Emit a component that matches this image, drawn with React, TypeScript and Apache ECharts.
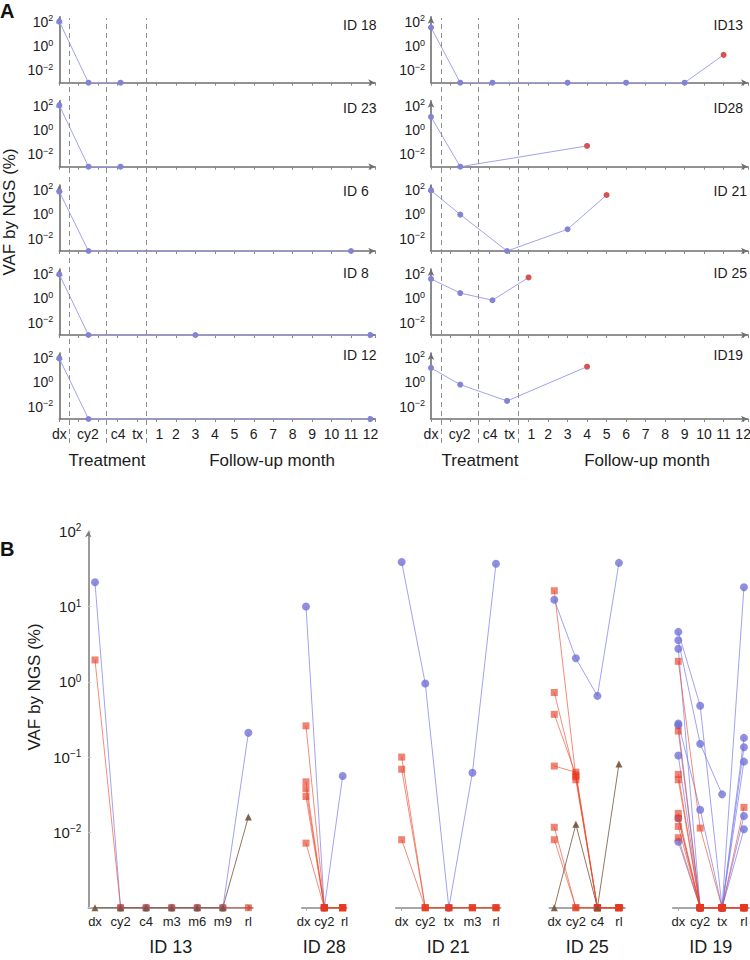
import { useEffect, useRef } from 'react';
import * as echarts from 'echarts';

const FONT = '"Liberation Sans", Arial, Helvetica, sans-serif';
const FLOOR_EXP = -3; // undetected values (0) sit on the axis floor, 10^-3

// ---------------- Panel A ----------------
const A_TICK_LABELS = ['dx', 'cy2', 'c4', 'tx', '1', '2', '3', '4', '5', '6', '7', '8', '9', '10', '11', '12'];
const A_TICK_POS = [-4, -2.53, -0.97, 0.03, 1.15, 2, 3, 4, 5, 6, 7, 8, 9, 10, 11, 12];
const A_TIME_POS: Record<string, number> = { dx: -4, cy2: -2.5, c4: -0.85, tx: -0.1 };
const A_PHASE_BOUNDS = [-3.5, -1.6, 0.47];
const A_Y_LABELS: Record<string, string> = { '-2': '10{s|−2}', '0': '10{s|0}', '2': '10{s|2}' };

const A18_T = ['dx', 'cy2', 'c4'];
const A18_V = [100, 0, 0];
const A23_T = ['dx', 'cy2', 'c4'];
const A23_V = [105, 0, 0];
const A6_T = ['dx', 'cy2', '11'];
const A6_V = [72, 0, 0];
const A8_T = ['dx', 'cy2', '3', '12'];
const A8_V = [90, 0, 0, 0];
const A12_T = ['dx', 'cy2', '12'];
const A12_V = [90, 0, 0];

const A13_T = ['dx', 'cy2', 'c4', '3', '6', '9', '11'];
const A13_V = [33, 0, 0, 0, 0, 0, 0.19];
const A28_T = ['dx', 'cy2', '4'];
const A28_V = [12, 0, 0.05];
const A21_T = ['dx', 'cy2', 'tx', '3', '5'];
const A21_V = [90, 0.95, 0, 0.06, 38];
const A25_T = ['dx', 'cy2', 'c4', '1'];
const A25_V = [39, 2.7, 0.7, 51];
const A19_T = ['dx', 'cy2', 'tx', '4'];
const A19_V = [15, 0.65, 0.03, 19];

const A_LEFT_IDS = ['ID 18', 'ID 23', 'ID 6', 'ID 8', 'ID 12'];
const A_RIGHT_IDS = ['ID13', 'ID28', 'ID 21', 'ID 25', 'ID19'];
const A_LEFT_T = [A18_T, A23_T, A6_T, A8_T, A12_T];
const A_LEFT_V = [A18_V, A23_V, A6_V, A8_V, A12_V];
const A_RIGHT_T = [A13_T, A28_T, A21_T, A25_T, A19_T];
const A_RIGHT_V = [A13_V, A28_V, A21_V, A25_V, A19_V];
// relapse sample (red) for the right-hand patients
const A_RIGHT_RELAPSE = ['11', '4', '5', '1', '4'];

// ---------------- Panel B ----------------
const B_Y_LABELS: Record<string, string> = {
  '2': '10{s|2}',
  '1': '10{s|1}',
  '0': '10{s|0}',
  '-1': '10{s|−1}',
  '-2': '10{s|−2}',
};
const B_IDS = ['ID 13', 'ID 28', 'ID 21', 'ID 25', 'ID 19'];

const B13_CATS = ['dx', 'cy2', 'c4', 'm3', 'm6', 'm9', 'rl'];
const B13_BLUE = [[21, 0, 0, 0, 0, 0, 0.21]];
const B13_RED = [[1.95, 0, 0, 0, 0, 0, 0]];
const B13_BROWN = [[0, 0, 0, 0, 0, 0, 0.016]];

const B28_CATS = ['dx', 'cy2', 'rl'];
const B28_BLUE = [[10, 0, 0.056]];
const B28_RED = [[0.26, 0, 0], [0.047, 0, 0], [0.038, 0, 0], [0.03, 0, 0], [0.0072, 0, 0]];
const B28_BROWN: number[][] = [];

const B21_CATS = ['dx', 'cy2', 'tx', 'm3', 'rl'];
const B21_BLUE = [[39, 0.95, 0, 0.062, 37]];
const B21_RED = [[0.1, 0, 0, 0, 0], [0.069, 0, 0, 0, 0], [0.008, 0, 0, 0, 0]];
const B21_BROWN: number[][] = [];

const B25_CATS = ['dx', 'cy2', 'c4', 'rl'];
const B25_BLUE = [[12.3, 2.05, 0.65, 38]];
const B25_RED = [
  [16.2, 0.055, 0, 0],
  [0.72, 0.05, 0, 0],
  [0.37, 0.058, 0, 0],
  [0.076, 0.063, 0, 0],
  [0.0117, 0, 0, 0],
  [0.008, 0, 0, 0],
];
const B25_BROWN = [[0, 0.0128, 0, 0.081]];

const B19_CATS = ['dx', 'cy2', 'tx', 'rl'];
const B19_BLUE: (number | null)[][] = [
  [4.6, 0.48, 0, 18],
  [3.56, 0.15, 0.032, null],
  [2.75, 0, 0, 0.18],
  [0.28, 0.02, 0, 0.135],
  [0.264, 0, 0, 0.087],
  [0.105, 0, 0, 0.0165],
  [0.0154, 0, 0, 0.011],
  [0.0075, 0, 0, 0],
];
const B19_RED = [
  [1.87, 0.0114, 0, 0],
  [0.222, 0, 0, 0],
  [0.059, 0, 0, 0.0215],
  [0.05, 0, 0, 0],
  [0.0179, 0, 0, 0],
  [0.0154, 0, 0, 0],
  [0.012, 0, 0, 0],
  [0.0085, 0, 0, 0],
];
const B19_BROWN: number[][] = [];

const B_CATS = [B13_CATS, B28_CATS, B21_CATS, B25_CATS, B19_CATS];
const B_BLUE = [B13_BLUE, B28_BLUE, B21_BLUE, B25_BLUE, B19_BLUE];
const B_RED = [B13_RED, B28_RED, B21_RED, B25_RED, B19_RED];
const B_BROWN = [B13_BROWN, B28_BROWN, B21_BROWN, B25_BROWN, B19_BROWN];

// ---------------- layout / style ----------------
const A_COLS = [
  { left: 59.3, width: 316 },
  { left: 431, width: 317 },
];
const A_BOTTOMS = [82.7, 166.7, 251, 335, 419];
const A_H = 66;
const A_ID_Y = [25, 108, 190.5, 273, 355];
const A_ID_X = [343, 713.5];
const B_TOP = 531.2;
const B_H = 376.5;
const B_LAYOUT = [
  { left: 88.3, width: 164.7, min: -0.262, max: 6.18, labelShift: [0, 0, 0, 0, 0, 0, 0] },
  { left: 301.7, width: 45, min: -0.234, max: 2.22, labelShift: [-0.13, 0, 0.1] },
  { left: 395.7, width: 105, min: -0.254, max: 4.2, labelShift: [0, 0, 0, 0, 0] },
  { left: 549.3, width: 75.7, min: -0.232, max: 3.28, labelShift: [0, 0, 0, 0] },
  { left: 672.7, width: 76.3, min: -0.256, max: 3.23, labelShift: [0, 0, 0, 0] },
];

const AXIS_GRAY = '#6f6f6f';
const TXT = '#1c1c1c';

const toExp = (v: number) => (v > 0 ? Math.log10(v) : FLOOR_EXP);
const timePos = (t: string) => (t in A_TIME_POS ? A_TIME_POS[t] : Number(t));
const nearestIdx = (arr: number[], v: number) => {
  let bi = 0;
  for (let i = 1; i < arr.length; i++) if (Math.abs(arr[i] - v) < Math.abs(arr[bi] - v)) bi = i;
  return bi;
};
const expLabel = (map: Record<string, string>) => (v: number) => {
  const r = Math.round(v);
  if (Math.abs(v - r) > 1e-6) return '';
  return map[String(r)] ?? '';
};
const supRich = (base: number, sup: number) => ({
  s: { fontSize: sup, verticalAlign: 'top', lineHeight: sup + 1, color: TXT, fontFamily: FONT },
  b: { fontSize: base },
});

function buildOption() {
  const grid: any[] = [];
  const xAxis: any[] = [];
  const yAxis: any[] = [];
  const series: any[] = [];
  const graphic: any[] = [];

  // Panel A small multiples
  const cols = [
    { ids: A_LEFT_IDS, T: A_LEFT_T, V: A_LEFT_V, relapse: null as string[] | null },
    { ids: A_RIGHT_IDS, T: A_RIGHT_T, V: A_RIGHT_V, relapse: A_RIGHT_RELAPSE },
  ];
  cols.forEach((col, c) => {
    col.ids.forEach((id, r) => {
      const gi = grid.length;
      const bottom = A_BOTTOMS[r];
      grid.push({
        left: A_COLS[c].left,
        width: A_COLS[c].width,
        top: bottom - A_H,
        height: A_H,
        containLabel: false,
        outerBoundsMode: 'none',
      });
      const isBottom = r === col.ids.length - 1;
      xAxis.push({
        gridIndex: gi,
        type: 'value',
        min: -4,
        max: 12.25,
        interval: 1,
        axisLine: {
          show: true,
          onZero: false,
          symbol: ['none', 'arrow'],
          symbolSize: [5, 7],
          lineStyle: { color: AXIS_GRAY, width: 1.6 },
        },
        axisTick: { show: true, length: 3, lineStyle: { color: '#888', width: 1 } },
        axisLabel: isBottom
          ? {
              show: true,
              customValues: A_TICK_POS,
              formatter: (v: number) => A_TICK_LABELS[nearestIdx(A_TICK_POS, v)],
              fontSize: 14,
              color: TXT,
              margin: 8,
              hideOverlap: false,
            }
          : { show: false },
        splitLine: { show: false },
      });
      yAxis.push({
        gridIndex: gi,
        type: 'value',
        min: FLOOR_EXP,
        max: 2.4,
        interval: 1,
        axisLine: {
          show: true,
          onZero: false,
          symbol: ['none', 'arrow'],
          symbolSize: [5, 7],
          lineStyle: { color: AXIS_GRAY, width: 1.6 },
        },
        axisTick: { show: false },
        axisLabel: {
          formatter: expLabel(A_Y_LABELS),
          fontSize: 14,
          lineHeight: 16,
          color: TXT,
          margin: 6,
          rich: supRich(14, 9),
        },
        splitLine: { show: false },
      });
      const T = col.T[r];
      const V = col.V[r];
      series.push({
        type: 'line',
        xAxisIndex: gi,
        yAxisIndex: gi,
        symbol: 'circle',
        symbolSize: 6,
        clip: false,
        lineStyle: { color: '#a2a2ee', width: 1 },
        itemStyle: { color: '#8383d6' },
        data: T.map((t, i) => {
          const item: any = { value: [timePos(t), toExp(V[i])] };
          if (col.relapse && col.relapse[r] === t) item.itemStyle = { color: '#d65353' };
          return item;
        }),
        z: 3,
      });
      graphic.push({
        type: 'text',
        x: A_ID_X[c],
        y: A_ID_Y[r],
        style: { text: id, fontSize: 14, fill: TXT, fontFamily: FONT, align: 'left', verticalAlign: 'middle' },
      });
    });
  });

  // Panel A dashed phase boundaries (overlay grids spanning the column)
  A_COLS.forEach((colLayout) => {
    const gi = grid.length;
    grid.push({ left: colLayout.left, width: colLayout.width, top: 18, height: 425, containLabel: false, outerBoundsMode: 'none' });
    xAxis.push({ gridIndex: gi, type: 'value', min: -4, max: 12.25, show: false });
    yAxis.push({ gridIndex: gi, type: 'value', min: 0, max: 1, show: false });
    series.push({
      type: 'line',
      xAxisIndex: gi,
      yAxisIndex: gi,
      data: [],
      markLine: {
        silent: true,
        symbol: ['none', 'none'],
        label: { show: false },
        lineStyle: { color: '#8f8f8f', width: 1, type: [5, 4] },
        data: A_PHASE_BOUNDS.map((x) => ({ xAxis: x })),
      },
    });
  });

  // Panel B
  const styles = [
    { lists: B_BLUE, symbol: 'circle', size: 8, color: 'rgb(112,112,214)', op: 0.78, line: 'rgb(122,122,236)', lop: 0.7 },
    { lists: B_RED, symbol: 'rect', size: 7, color: 'rgb(230,56,30)', op: 0.62, line: 'rgb(238,70,40)', lop: 0.62 },
    { lists: B_BROWN, symbol: 'triangle', size: 7, color: '#76573f', op: 0.92, line: '#7d5f48', lop: 0.85 },
  ];
  B_IDS.forEach((id, p) => {
    const gi = grid.length;
    const L = B_LAYOUT[p];
    const cats = B_CATS[p];
    const idx = cats.map((_, i) => i);
    const labelPos = cats.map((_, i) => i + L.labelShift[i]);
    grid.push({ left: L.left, width: L.width, top: B_TOP, height: B_H, containLabel: false, outerBoundsMode: 'none' });
    xAxis.push({
      gridIndex: gi,
      type: 'value',
      min: L.min,
      max: L.max,
      name: id,
      nameLocation: 'middle',
      nameGap: 30,
      nameTextStyle: { fontSize: 18, color: TXT, fontFamily: FONT },
      axisLine: {
        show: true,
        onZero: false,
        symbol: ['none', 'arrow'],
        symbolSize: [5, 6],
        lineStyle: { color: '#8a8a8a', width: 1.5 },
      },
      axisTick: { show: true, customValues: idx, length: 3, lineStyle: { color: '#aaa' } },
      axisLabel: {
        show: true,
        customValues: labelPos,
        formatter: (v: number) => cats[nearestIdx(labelPos, v)],
        fontSize: 13,
        color: TXT,
        margin: 7,
        hideOverlap: false,
      },
      splitLine: { show: false },
    });
    const first = p === 0;
    yAxis.push({
      gridIndex: gi,
      type: 'value',
      min: FLOOR_EXP,
      max: 2,
      interval: 1,
      show: first,
      axisLine: {
        show: first,
        onZero: false,
        symbol: ['none', 'arrow'],
        symbolSize: [5, 6],
        lineStyle: { color: '#7a7a7a', width: 1.5 },
      },
      axisTick: { show: first, length: 3, inside: true, lineStyle: { color: '#ccc' } },
      axisLabel: {
        show: first,
        formatter: expLabel(B_Y_LABELS),
        fontSize: 15,
        lineHeight: 17,
        color: TXT,
        margin: 7,
        rich: supRich(15, 10),
      },
      splitLine: { show: false },
    });
    styles.forEach((s) => {
      (s.lists[p] as (number | null)[][]).forEach((vals) => {
        const data: number[][] = [];
        vals.forEach((v, i) => {
          if (v !== null) data.push([i, toExp(v)]);
        });
        series.push({
          type: 'line',
          xAxisIndex: gi,
          yAxisIndex: gi,
          symbol: s.symbol,
          symbolSize: s.size,
          clip: false,
          data,
          lineStyle: { color: s.line, width: 1, opacity: s.lop },
          itemStyle: { color: s.color, opacity: s.op },
          z: 3,
        });
      });
    });
  });

  // Titles and annotations
  graphic.push(
    { type: 'text', x: 0, y: 1, style: { text: 'A', fontSize: 20, fontWeight: 'bold', fill: '#111', fontFamily: FONT, verticalAlign: 'top' } },
    { type: 'text', x: 0, y: 539, style: { text: 'B', fontSize: 20, fontWeight: 'bold', fill: '#111', fontFamily: FONT, verticalAlign: 'top' } },
    {
      type: 'text',
      x: 9,
      y: 212,
      rotation: Math.PI / 2,
      style: { text: 'VAF by NGS (%)', fontSize: 17, fill: TXT, fontFamily: FONT, align: 'center', verticalAlign: 'middle' },
    },
    {
      type: 'text',
      x: 34,
      y: 687,
      rotation: Math.PI / 2,
      style: { text: 'VAF by NGS (%)', fontSize: 17, fill: TXT, fontFamily: FONT, align: 'center', verticalAlign: 'middle' },
    },
  );
  [
    { t: 'Treatment', x: 107 },
    { t: 'Follow-up month', x: 272 },
    { t: 'Treatment', x: 480 },
    { t: 'Follow-up month', x: 647 },
  ].forEach((o) =>
    graphic.push({
      type: 'text',
      x: o.x,
      y: 460,
      style: { text: o.t, fontSize: 17, fill: TXT, fontFamily: FONT, align: 'center', verticalAlign: 'middle' },
    }),
  );

  return {
    animation: false,
    backgroundColor: '#ffffff',
    textStyle: { fontFamily: FONT },
    grid,
    xAxis,
    yAxis,
    series,
    graphic,
  };
}

export default function App() {
  const ref = useRef<HTMLDivElement>(null);
  useEffect(() => {
    const chart = echarts.init(ref.current as HTMLDivElement, null, { renderer: 'svg' });
    chart.setOption(buildOption() as any);
    return () => chart.dispose();
  }, []);
  return (
    <div
      ref={ref}
      style={{ position: 'absolute', left: 0, top: 0, width: 750, height: 960, background: '#fff' }}
    />
  );
}
